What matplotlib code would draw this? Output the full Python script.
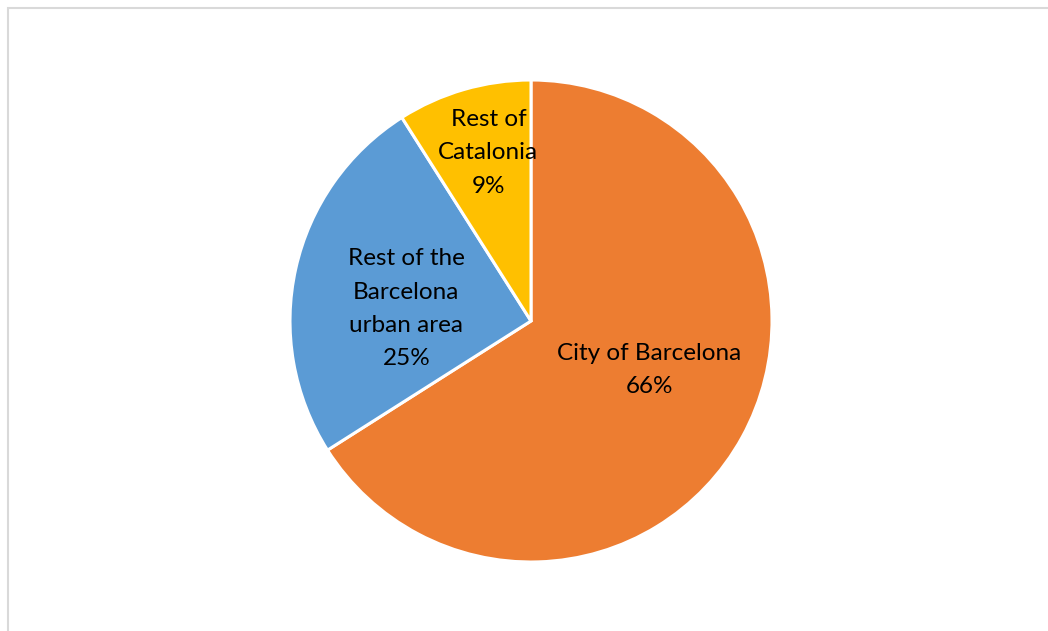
import numpy as np
import matplotlib.pyplot as plt
from matplotlib.patches import Rectangle

# shares of visitors by place of residence
labels = ['City of Barcelona', 'Rest of the\nBarcelona\nurban area', 'Rest of\nCatalonia']
shares = [66, 25, 9]
colors = ['#ED7D31', '#5B9BD5', '#FFC000']

W, H = 1048, 631
fig = plt.figure(figsize=(W / 100, H / 100), dpi=100)
ax = fig.add_axes([0, 0, 1, 1])

cx, cy, r = 531, H - 321, 241
wedges, _ = ax.pie(shares, colors=colors, startangle=90, counterclock=False,
                   center=(cx, cy), radius=r, frame=True,
                   wedgeprops=dict(edgecolor='white', linewidth=2.2))
ax.set_xlim(0, W)
ax.set_ylim(0, H)
ax.axis('off')

# label placement (distance as fraction of radius, angle tweak in degrees)
place = [(0.53, 6.3), (0.52, 7.0), (0.72, -2)]
for w, lab, val, (d, da) in zip(wedges, labels, shares, place):
    mid = np.deg2rad((w.theta1 + w.theta2) / 2 + da)
    x = cx + d * r * np.cos(mid)
    y = cy + d * r * np.sin(mid)
    ax.text(x, y, f'{lab}\n{val}%', ha='center', va='center', fontsize=17.5,
            family='Lato', linespacing=1.72, color='black')

# light frame of the chart area
fig.patches.append(Rectangle((8 / W, -0.1), 1.2, 1.1 - 8 / H,
                             transform=fig.transFigure, fill=False,
                             edgecolor='#D9D9D9', linewidth=1.5))

fig.savefig('out.png', dpi=100)
